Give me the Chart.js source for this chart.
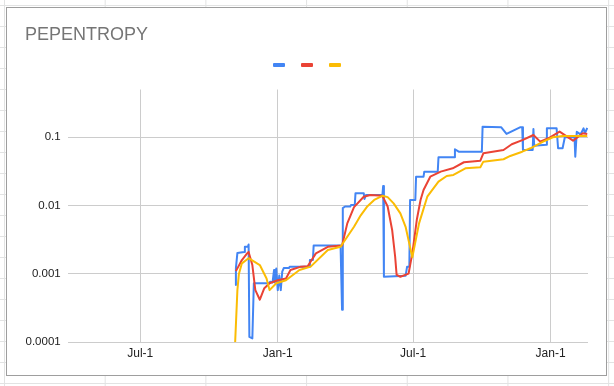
<!DOCTYPE html>
<html>
<head>
<meta charset="utf-8">
<script src="https://cdn.jsdelivr.net/npm/chart.js@4/dist/chart.umd.min.js"></script>
<style>
  html, body { margin: 0; padding: 0; }
  body {
    width: 614px; height: 386px; overflow: hidden;
    background-color: #fff;
    background-image:
      linear-gradient(to bottom, #e2e3e3 1px, transparent 1px),
      linear-gradient(to right, #e2e3e3 1px, transparent 1px);
    background-size: 100% 21px, 100.7px 100%;
    background-position: 0 5px, 4px 0;
  }
  #box {
    position: absolute; left: 6px; top: 7px;
    width: 599px; height: 367px;
    border: 1px solid #9e9e9e; background: #fff;
  }
  canvas { display: block; }
</style>
</head>
<body>
<div id="box"><canvas id="chart" width="599" height="367"></canvas></div>
<script>
// ── Data ──────────────────────────────────────────────────
const blueDates = [
  '2022-11-05', '2022-11-06', '2022-11-08', '2022-11-17', '2022-11-18', '2022-11-22',
  '2022-11-23', '2022-11-24', '2022-11-28', '2022-11-30', '2022-12-20', '2022-12-22',
  '2022-12-25', '2022-12-27', '2022-12-28', '2022-12-30', '2023-01-01', '2023-01-03',
  '2023-01-05', '2023-01-07', '2023-01-09', '2023-01-16', '2023-01-17', '2023-02-12',
  '2023-02-13', '2023-02-17', '2023-02-18', '2023-03-26', '2023-03-28', '2023-03-29',
  '2023-04-01', '2023-04-08', '2023-04-09', '2023-04-14', '2023-04-15', '2023-04-26',
  '2023-04-27', '2023-04-29', '2023-05-21', '2023-05-22', '2023-05-23', '2023-06-21',
  '2023-06-23', '2023-06-26', '2023-06-27', '2023-07-04', '2023-07-05', '2023-07-15',
  '2023-07-16', '2023-08-03', '2023-08-04', '2023-08-25', '2023-08-26', '2023-08-31',
  '2023-10-01', '2023-10-02', '2023-10-27', '2023-11-03', '2023-11-21', '2023-11-24',
  '2023-11-25', '2023-12-08', '2023-12-09', '2023-12-10', '2023-12-26', '2023-12-27',
  '2024-01-09', '2024-01-11', '2024-01-17', '2024-01-20', '2024-02-02', '2024-02-03',
  '2024-02-05', '2024-02-10', '2024-02-14', '2024-02-16', '2024-02-19'
];
const blueValues = [
  0.00069, 0.00122, 0.00203, 0.00210, 0.00250, 0.00250,
  0.00270, 0.00012, 0.000114, 0.00073, 0.00073, 0.00077,
  0.00075, 0.00114, 0.00075, 0.00120, 0.00058, 0.00095,
  0.00058, 0.00108, 0.00122, 0.00122, 0.00128, 0.00128,
  0.0016, 0.0016, 0.0026, 0.0026, 0.0003, 0.0092,
  0.0097, 0.0097, 0.0102, 0.0102, 0.0152, 0.0152,
  0.0125, 0.0143, 0.0143, 0.0194, 0.00091, 0.00094,
  0.00128, 0.00128, 0.0121, 0.0121, 0.0265, 0.0265,
  0.0314, 0.0314, 0.051, 0.051, 0.0668, 0.0615,
  0.0615, 0.143, 0.140, 0.112, 0.140, 0.140,
  0.065, 0.065, 0.132, 0.075, 0.078, 0.1355,
  0.1355, 0.069, 0.069, 0.10, 0.10, 0.052,
  0.12, 0.11, 0.135, 0.115, 0.137
];

const redDates = [
  '2022-11-06', '2022-11-14', '2022-11-21', '2022-11-23', '2022-11-28', '2022-12-02',
  '2022-12-08', '2022-12-14', '2022-12-21', '2023-01-01', '2023-01-12', '2023-01-18',
  '2023-02-01', '2023-02-10', '2023-02-21', '2023-03-09', '2023-03-28', '2023-04-04',
  '2023-04-13', '2023-04-26', '2023-05-05', '2023-05-21', '2023-05-28', '2023-06-03',
  '2023-06-07', '2023-06-09', '2023-06-14', '2023-06-25', '2023-06-30', '2023-07-06',
  '2023-07-11', '2023-07-15', '2023-07-24', '2023-08-07', '2023-08-23', '2023-09-07',
  '2023-09-29', '2023-10-03', '2023-10-30', '2023-11-10', '2023-11-25', '2023-12-09',
  '2023-12-18', '2023-12-29', '2024-01-13', '2024-01-31', '2024-02-13', '2024-02-19'
];
const redValues = [
  0.0011, 0.0016, 0.0020, 0.0021, 0.00135, 0.00058,
  0.00042, 0.00062, 0.00073, 0.00081, 0.00086, 0.00114,
  0.00128, 0.0013, 0.0020, 0.0025, 0.0026, 0.0055,
  0.0095, 0.0135, 0.0143, 0.0139, 0.0097, 0.0044,
  0.0018, 0.00097, 0.00091, 0.00101, 0.0020, 0.0062,
  0.0121, 0.0169, 0.0265, 0.0314, 0.0352, 0.0431,
  0.0455, 0.0583, 0.0652, 0.079, 0.0914, 0.108,
  0.0863, 0.0967, 0.121, 0.0891, 0.1145, 0.112
];

const yellowDates = [
  '2022-11-05', '2022-11-08', '2022-11-10', '2022-11-14', '2022-11-23', '2022-12-08',
  '2022-12-17', '2022-12-21', '2022-12-30', '2023-01-12', '2023-01-30', '2023-02-14',
  '2023-03-09', '2023-03-26', '2023-04-13', '2023-04-22', '2023-05-01', '2023-05-10',
  '2023-05-21', '2023-05-28', '2023-06-05', '2023-06-14', '2023-06-21', '2023-06-30',
  '2023-07-09', '2023-07-20', '2023-08-04', '2023-08-15', '2023-08-24', '2023-09-09',
  '2023-09-29', '2023-10-03', '2023-10-30', '2023-11-08', '2023-11-24', '2023-12-05',
  '2023-12-22', '2024-01-04', '2024-01-17', '2024-02-19'
];
const yellowValues = [
  0.0001, 0.00058, 0.0010, 0.00143, 0.0017, 0.00135,
  0.00086, 0.00058, 0.00073, 0.00081, 0.00114, 0.00128,
  0.00224, 0.0025, 0.0049, 0.0072, 0.0098, 0.0121,
  0.0139, 0.0133, 0.0108, 0.0077, 0.0049, 0.00175,
  0.0055, 0.0135, 0.0224, 0.0271, 0.0281, 0.0352,
  0.0364, 0.044, 0.0477, 0.0533, 0.0615, 0.069,
  0.0863, 0.100, 0.1045, 0.1045
];

const xTickDates  = ['2022-07-01', '2023-01-01', '2023-07-01', '2024-01-01'];
const xTickLabels = ['Jul-1', 'Jan-1', 'Jul-1', 'Jan-1'];
const yTickValues = [0.0001, 0.001, 0.01, 0.1];
const yTickLabels = ['0.0001', '0.001', '0.01', '0.1'];

// ── Helpers ───────────────────────────────────────────────
const day = s => Date.parse(s) / 86400000;
const points = (dates, values) => dates.map((d, i) => ({ x: day(d), y: values[i] }));

// legend sits 8.5px higher than the plot in the reference
const legendGap = {
  id: 'legendGap',
  beforeLayout(chart) {
    const legend = chart.legend;
    if (legend && !legend._gapPatched) {
      const fit = legend.fit;
      legend.fit = function () { fit.call(this); this.height += 8.5; };
      legend._gapPatched = true;
    }
  },
  afterLayout(chart) {
    chart.legend.left += 3.5;
    chart.legend.right += 3.5;
  }
};

Chart.defaults.font.family = "'Liberation Sans', Arial, sans-serif";

const line = (data, color, order) => ({
  label: '',
  data,
  borderColor: color,
  backgroundColor: color,
  borderWidth: 2,
  pointRadius: 0,
  tension: 0,
  borderJoinStyle: 'round',
  order,
});

const gridColor = '#cccccc';

new Chart(document.getElementById('chart'), {
  type: 'line',
  data: {
    datasets: [
      line(points(blueDates, blueValues), '#4285f4', 3),
      line(points(redDates, redValues), '#ea4335', 2),
      line(points(yellowDates, yellowValues), '#fbbc04', 1),
    ]
  },
  options: {
    responsive: false,
    animation: false,
    layout: { padding: { left: 18, right: 18, top: 0, bottom: 0 } },
    plugins: {
      title: {
        display: true,
        text: 'PEPENTROPY',
        align: 'start',
        color: '#757575',
        font: { size: 18, weight: 'normal' },
        padding: { top: 16, bottom: 1.4 },
      },
      legend: {
        display: true,
        position: 'top',
        align: 'center',
        labels: {
          boxWidth: 10,
          boxHeight: 2,
          padding: 12,
          font: { size: 12 },
          sort: (a, b) => a.datasetIndex - b.datasetIndex,
        }
      },
      tooltip: { enabled: false },
    },
    scales: {
      x: {
        type: 'linear',
        min: day('2022-03-26'),
        max: day('2024-02-20'),
        afterBuildTicks: scale => { scale.ticks = xTickDates.map(d => ({ value: day(d) })); },
        afterFit: scale => { scale.height = 32.7; },
        ticks: {
          callback: (v, i) => xTickLabels[i],
          color: '#222222',
          font: { size: 12 },
          padding: 4,
          maxRotation: 0,
          autoSkip: false,
        },
        grid: { color: gridColor, drawTicks: false },
        border: { display: false },
      },
      y: {
        type: 'logarithmic',
        min: 0.0001,
        max: 0.5,
        afterBuildTicks: scale => { scale.ticks = yTickValues.map(v => ({ value: v })); },
        afterFit: scale => { scale.width = 42.7; },
        ticks: {
          callback: (v, i) => yTickLabels[i],
          color: '#222222',
          font: { size: 11.5 },
          padding: 7,
          autoSkip: false,
        },
        grid: { color: gridColor, drawTicks: false },
        border: { display: false },
      }
    }
  },
  plugins: [legendGap]
});
</script>
</body>
</html>
